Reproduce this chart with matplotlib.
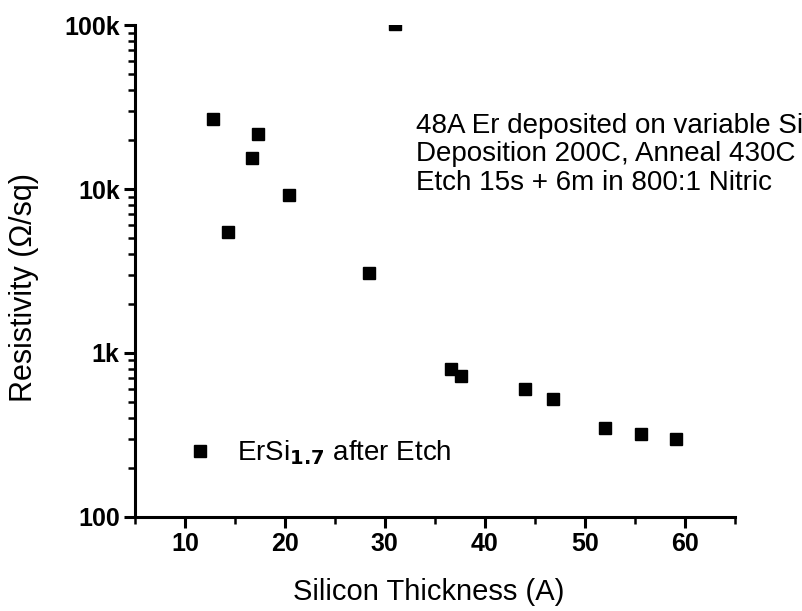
import matplotlib
matplotlib.use("Agg")
import matplotlib.pyplot as plt
from matplotlib.ticker import FixedLocator, LogLocator, NullFormatter

plt.rcParams["font.family"] = ["Liberation Sans", "DejaVu Sans"]

# ---- data ---------------------------------------------------------------
thickness = [12.8, 14.3, 16.7, 17.3, 20.4, 28.4, 31.0, 36.6, 37.6,
             44.0, 46.8, 52.0, 55.6, 59.1]
resistivity = [26700, 5470, 15500, 21600, 9160, 3060, 102000, 799, 724,
               601, 522, 350, 319, 298]

x_ticks = [10, 20, 30, 40, 50, 60]
y_ticks = [100, 1000, 10000, 100000]
y_tick_labels = ["100", "1k", "10k", "100k"]

note = ("48A Er deposited on variable Si\n"
        "Deposition 200C, Anneal 430C\n"
        "Etch 15s + 6m in 800:1 Nitric")

fig = plt.figure(figsize=(8.03, 6.11), dpi=100)
ax = fig.add_axes([0.168, 0.154, 0.747, 0.805])

ax.plot(thickness, resistivity, ls="none", marker="s", ms=8, color="black",
        label=r"ErSi$_{\mathbf{1.7}}$ after Etch", clip_on=True)

ax.set_yscale("log")
ax.set_xlim(5, 65)
ax.set_ylim(100, 100000)

ax.xaxis.set_major_locator(FixedLocator(x_ticks))
ax.xaxis.set_minor_locator(FixedLocator([5, 15, 25, 35, 45, 55, 65]))
ax.yaxis.set_major_locator(FixedLocator(y_ticks))
ax.set_yticklabels(y_tick_labels)
ax.yaxis.set_minor_locator(LogLocator(base=10, subs=range(2, 10)))
ax.yaxis.set_minor_formatter(NullFormatter())

for side in ("top", "right"):
    ax.spines[side].set_visible(False)
for side in ("left", "bottom"):
    ax.spines[side].set_linewidth(2.2)

ax.tick_params(which="major", direction="out", length=8, width=2.2,
               labelsize=18, pad=3)
ax.tick_params(which="minor", direction="out", length=5, width=1.8)
for lbl in ax.get_xticklabels() + ax.get_yticklabels():
    lbl.set_fontweight("bold")

ax.set_xlabel("Silicon Thickness (A)", fontsize=21)
ax.xaxis.set_label_coords(0.49, -0.125)
ax.set_ylabel("Resistivity (\u03a9/sq)", fontsize=22)
ax.yaxis.set_label_coords(-0.16, 0.467)

ax.text(0.469, 0.822, note, transform=ax.transAxes, fontsize=20,
        va="top", ha="left", linespacing=1.13)

ax.legend(loc="lower left", bbox_to_anchor=(0.02, 0.05), frameon=False,
          fontsize=20, handletextpad=0.35, markerscale=1.0)

fig.savefig("out.png", dpi=100)
